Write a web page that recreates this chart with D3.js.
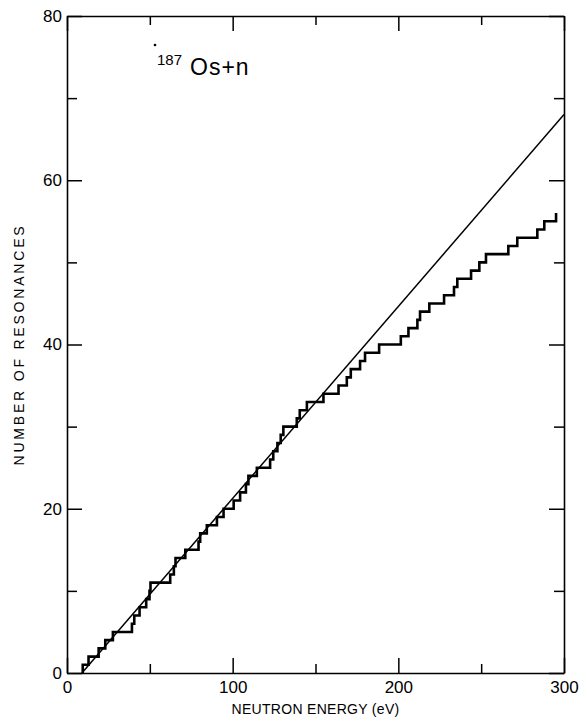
<!DOCTYPE html>
<html>
<head>
<meta charset="utf-8">
<script src="https://cdn.jsdelivr.net/npm/d3@7"></script>
<style>
	body { margin: 0; background: #fff; }
	text { font-family: "Liberation Sans", Arial, sans-serif; fill: #000; }
</style>
</head>
<body>
<div id="chart"></div>
<script>
// energy (eV) at which the cumulative count steps up to 1, 2, 3, ...
const stepEnergies = [
	9.5, 13.0, 19.1, 23.1, 27.7, 39.2, 40.6, 43.8, 47.8, 49.8,
	50.4, 62.3, 64.5, 65.5, 71.4, 79.4, 80.4, 84.4, 90.5, 94.5,
	100.6, 104.5, 108.0, 109.5, 114.6, 122.6, 124.5, 127.0, 129.0, 130.6,
	138.7, 140.5, 144.8, 154.8, 163.9, 168.9, 171.3, 176.9, 179.9, 188.4,
	201.5, 206.1, 211.5, 213.1, 218.7, 227.6, 233.6, 235.6, 243.9, 248.9,
	252.9, 266.4, 271.8, 283.9, 288.1, 295.2
]

// straight line fit, [energy, count]
const fitLine = [[9, 0], [300, 68]]

const xTicks = [0, 50, 100, 150, 200, 250, 300]
const xLabels = [0, 100, 200, 300]
const yTicks = [0, 10, 20, 30, 40, 50, 60, 70, 80]
const yLabels = [0, 20, 40, 60, 80]

const width = 582
const height = 719
const margin = ({top: 16, right: 18, bottom: 46, left: 67})

const svg = d3.select("#chart")
	.append("svg")
		.attr("width", width)
		.attr("height", height)

const x = d3.scaleLinear()
	.domain([0, 300])
	.range([margin.left, width - margin.right])

const y = d3.scaleLinear()
	.domain([0, 80])
	.range([height - margin.bottom, margin.top])

// tick length: long at labelled values, short in between
const xLen = d => xLabels.includes(d) ? 15 : 9
const yLen = d => yLabels.includes(d) ? 15 : 10

function styleAxis(g) {
	g.select(".domain").attr("stroke-width", 1.6)
	g.selectAll(".tick line").attr("stroke-width", 1.5)
	g.selectAll(".tick text")
		.attr("font-family", "Liberation Sans, Arial, sans-serif")
		.attr("font-size", 17)
		.attr("fill", "#000")
}

// bottom
svg.append("g")
	.attr("transform", `translate(0,${y(0)})`)
	.call(d3.axisBottom(x).tickValues(xTicks).tickSizeOuter(0)
		.tickFormat(d => xLabels.includes(d) ? d : ""))
	.call(styleAxis)
	.call(g => g.selectAll(".tick line").attr("y2", d => -xLen(d)))
	.call(g => g.selectAll(".tick text").attr("y", 8).attr("dy", "0.71em"))

// top
svg.append("g")
	.attr("transform", `translate(0,${y(80)})`)
	.call(d3.axisTop(x).tickValues(xTicks).tickSizeOuter(0).tickFormat(""))
	.call(styleAxis)
	.call(g => g.selectAll(".tick line").attr("y2", d => xLen(d)))

// left
svg.append("g")
	.attr("transform", `translate(${x(0)},0)`)
	.call(d3.axisLeft(y).tickValues(yTicks).tickSizeOuter(0)
		.tickFormat(d => yLabels.includes(d) ? d : ""))
	.call(styleAxis)
	.call(g => g.selectAll(".tick line").attr("x2", d => yLen(d)))
	.call(g => g.selectAll(".tick text").attr("x", -5))

// right
svg.append("g")
	.attr("transform", `translate(${x(300)},0)`)
	.call(d3.axisRight(y).tickValues(yTicks).tickSizeOuter(0).tickFormat(""))
	.call(styleAxis)
	.call(g => g.selectAll(".tick line").attr("x2", d => -yLen(d)))

// the fit line
const line = d3.line()
	.x(d => x(d[0]))
	.y(d => y(d[1]))

svg.append("path")
	.datum(fitLine)
	.attr("fill", "none")
	.attr("stroke", "#000")
	.attr("stroke-width", 1.5)
	.attr("d", line)

// cumulative staircase
const stairs = [[stepEnergies[0], 0]].concat(stepEnergies.map((e, i) => [e, i + 1]))

svg.append("path")
	.datum(stairs)
	.attr("fill", "none")
	.attr("stroke", "#000")
	.attr("stroke-width", 2.6)
	.attr("stroke-linejoin", "miter")
	.attr("d", line.curve(d3.curveStepAfter))

// axis titles
svg.append("text")
	.attr("x", (x(0) + x(300)) / 2)
	.attr("y", 714)
	.attr("text-anchor", "middle")
	.attr("font-size", 14)
	.attr("letter-spacing", 0.3)
	.text("NEUTRON ENERGY (eV)")

svg.append("text")
	.attr("transform", `translate(24,${(y(0) + y(80)) / 2}) rotate(-90)`)
	.attr("text-anchor", "middle")
	.attr("font-size", 14)
	.attr("letter-spacing", 2.8)
	.text("NUMBER OF RESONANCES")

// label
svg.append("circle")
	.attr("cx", 155)
	.attr("cy", 45)
	.attr("r", 1.3)
	.attr("fill", "#000")

svg.append("text")
	.attr("x", 157)
	.attr("y", 65)
	.attr("font-size", 15)
	.text("187")

svg.append("text")
	.attr("x", 190)
	.attr("y", 75)
	.attr("font-size", 23)
	.attr("letter-spacing", 1)
	.text("Os+n")
</script>
</body>
</html>
